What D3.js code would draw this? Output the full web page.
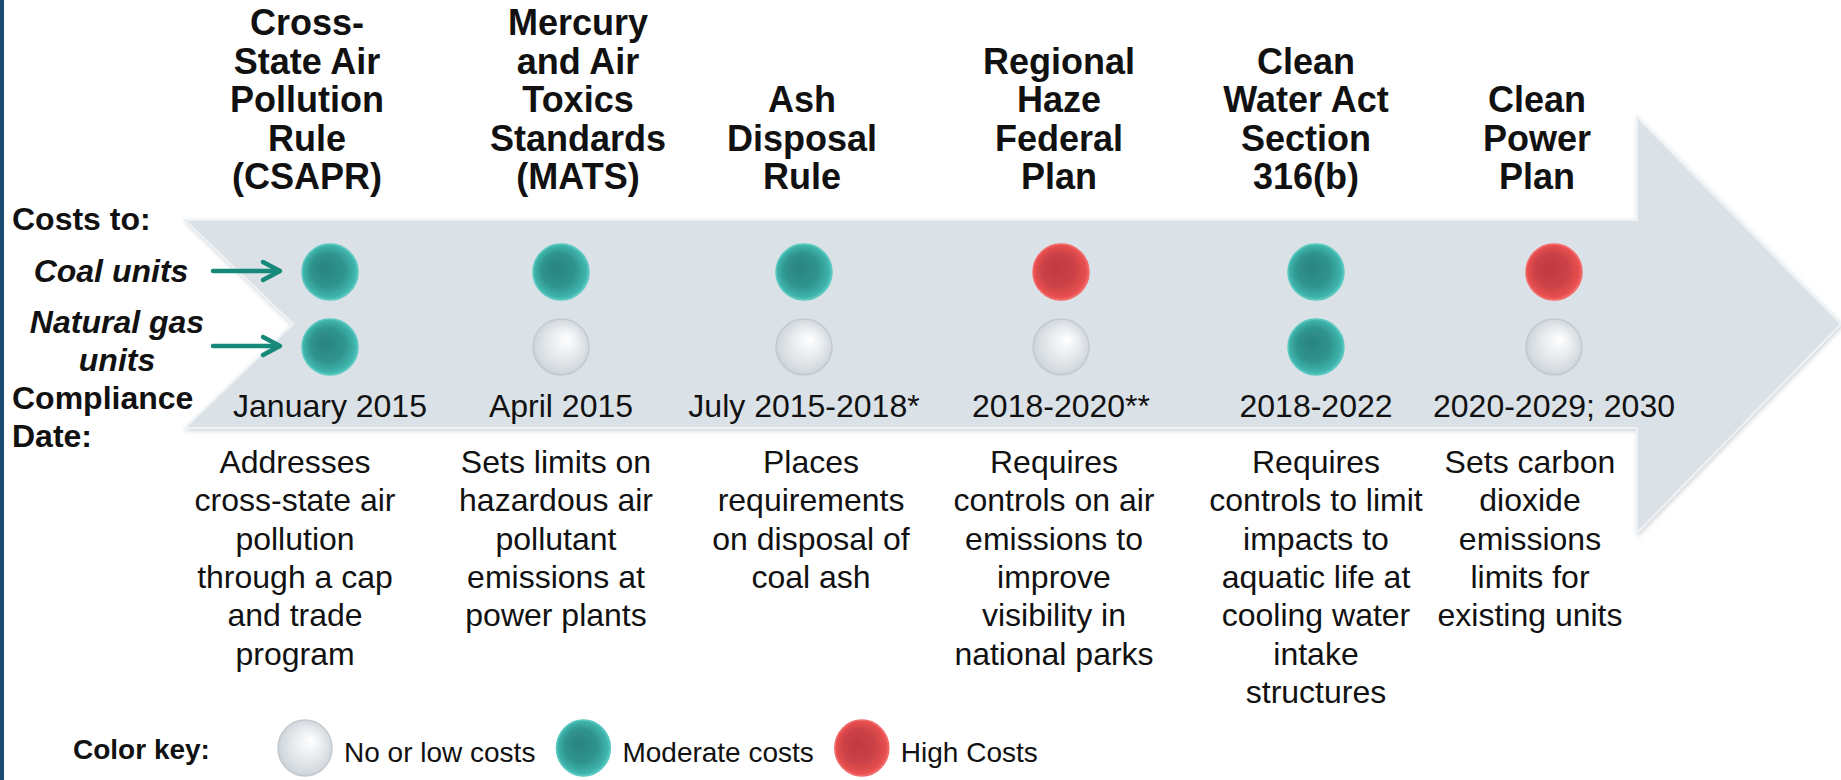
<!DOCTYPE html>
<html>
<head>
<meta charset="utf-8">
<script src="https://cdn.jsdelivr.net/npm/d3@7"></script>
<style>
  html, body { margin: 0; padding: 0; background: #fff; overflow: hidden; }
  svg text { font-family: "Liberation Sans", Arial, sans-serif; fill: #111; }
</style>
</head>
<body>
<svg id="chart" width="1841" height="780"></svg>
<script>
// ルール（カテゴリ）
const rules = ["CSAPR", "MATS", "Ash", "Haze", "316b", "CPP"];

const titleLines = [
  ["Cross-", "State Air", "Pollution", "Rule", "(CSAPR)"],
  ["Mercury", "and Air", "Toxics", "Standards", "(MATS)"],
  ["Ash", "Disposal", "Rule"],
  ["Regional", "Haze", "Federal", "Plan"],
  ["Clean", "Water Act", "Section", "316(b)"],
  ["Clean", "Power", "Plan"],
];

// コスト（石炭 / 天然ガス）
const coalCost = ["moderate", "moderate", "moderate", "high", "moderate", "high"];
const gasCost = ["moderate", "low", "low", "low", "moderate", "low"];

const complianceDates = [
  "January 2015", "April 2015", "July 2015-2018*",
  "2018-2020**", "2018-2022", "2020-2029; 2030",
];

const descriptions = [
  ["Addresses", "cross-state air", "pollution", "through a cap", "and trade", "program"],
  ["Sets limits on", "hazardous air", "pollutant", "emissions at", "power plants"],
  ["Places", "requirements", "on disposal of", "coal ash"],
  ["Requires", "controls on air", "emissions to", "improve", "visibility in", "national parks"],
  ["Requires", "controls to limit", "impacts to", "aquatic life at", "cooling water", "intake", "structures"],
  ["Sets carbon", "dioxide", "emissions", "limits for", "existing units"],
];

const costLevels = ["low", "moderate", "high"];
const costLabels = ["No or low costs", "Moderate costs", "High Costs"];
const unitRows = ["coal", "gas"];

// テキストボックス・列のずれ（レイアウト調整）
const colNudge = [2, -11, -12, 1, 12, 6];
const titleNudge = [-21, 6, -14, -1, 2, -11];
const descNudge = [-33, -16, -5, -6, 12, -18];

const svg = d3.select("#chart");
const defs = svg.append("defs");

// 立体的なボタン風グラデーション
const gradSpecs = {
  moderate: [[0, "#2a837e"], [0.55, "#2f948e"], [0.85, "#3fb5ad"], [1, "#78e0d8"]],
  high: [[0, "#c0393f"], [0.55, "#cc4247"], [0.85, "#e8504f"], [1, "#ff8a8a"]],
  low: [[0, "#ffffff"], [0.45, "#e9edf0"], [0.85, "#d3d9de"], [1, "#bfc6cc"]],
};
Object.entries(gradSpecs).forEach(([k, stops]) => {
  const g = defs.append("radialGradient").attr("id", "g-" + k)
    .attr("cx", "0.5").attr("cy", "0.5").attr("r", "0.55")
    .attr("fx", k === "low" ? "0.62" : "0.4").attr("fy", k === "low" ? "0.35" : "0.42");
  stops.forEach(([o, c]) => g.append("stop").attr("offset", o).attr("stop-color", c));
});
const shadow = defs.append("filter").attr("id", "shadow")
  .attr("x", "-5%").attr("y", "-10%").attr("width", "110%").attr("height", "125%");
shadow.append("feDropShadow").attr("dx", 1).attr("dy", 2).attr("stdDeviation", 2)
  .attr("flood-color", "#7a8590").attr("flood-opacity", 0.35);
defs.append("filter").attr("id", "soft")
  .append("feGaussianBlur").attr("stdDeviation", 0.5);

const fillFor = d3.scaleOrdinal().domain(costLevels).range(costLevels.map(k => `url(#g-${k})`));
const rimFor = d3.scaleOrdinal().domain(costLevels).range(["#c4cad0", "#5cc9c0", "#f26a6a"]);

// 左端の縦線
svg.append("rect").attr("x", 0).attr("y", 0).attr("width", 4).attr("height", 780).attr("fill", "#1d4a72");

// 矢印
const body = { x0: 185, x1: 1637, top: 220, bottom: 428, notch: 293 };
const head = { top: 117, bottom: 533, tip: 1841 };
const mid = (body.top + body.bottom) / 2;
svg.append("path")
  .attr("d", d3.line()([
    [body.x0, body.top], [body.x1, body.top], [body.x1, head.top], [head.tip, mid],
    [body.x1, head.bottom], [body.x1, body.bottom], [body.x0, body.bottom], [body.notch, mid],
  ]) + "Z")
  .attr("fill", "#dae1e7").attr("stroke", "#eef2f5").attr("stroke-width", 2)
  .attr("filter", "url(#shadow)");

// 列スケール
const x = d3.scalePoint().domain(rules).range([328, 1548]);
const y = d3.scalePoint().domain(unitRows).range([272, 347]);
const colX = r => x(r) + colNudge[rules.indexOf(r)];

// タイトル（下揃え）
const titleSize = 36, titleLH = 38.5, titleBase = 189;
const gTitles = svg.append("g");
rules.forEach((r, i) => {
  const lines = titleLines[i];
  const t = gTitles.append("text").attr("text-anchor", "middle")
    .attr("font-size", titleSize).attr("font-weight", "bold");
  lines.forEach((ln, j) => {
    t.append("tspan").attr("x", x(r) + titleNudge[i])
      .attr("y", titleBase - (lines.length - 1 - j) * titleLH).text(ln);
  });
});

// コストの丸
const cells = [];
rules.forEach((r, i) => {
  cells.push({ rule: r, row: "coal", level: coalCost[i] });
  cells.push({ rule: r, row: "gas", level: gasCost[i] });
});
svg.append("g").selectAll("circle").data(cells).join("circle")
  .attr("cx", d => colX(d.rule)).attr("cy", d => y(d.row)).attr("r", 28)
  .attr("fill", d => fillFor(d.level))
  .attr("stroke", d => rimFor(d.level)).attr("stroke-width", 1.5)
  .attr("filter", "url(#soft)");

// 左側ラベル
const gLeft = svg.append("g").attr("font-size", 32).attr("font-weight", "bold");
gLeft.append("text").attr("x", 12).attr("y", 230).text("Costs to:");
gLeft.append("text").attr("x", 111).attr("y", 282).attr("text-anchor", "middle")
  .attr("font-style", "italic").text("Coal units");
const gasLbl = gLeft.append("text").attr("text-anchor", "middle").attr("font-style", "italic");
gasLbl.append("tspan").attr("x", 117).attr("y", 333).text("Natural gas");
gasLbl.append("tspan").attr("x", 117).attr("y", 371).text("units");
const compLbl = gLeft.append("text");
compLbl.append("tspan").attr("x", 12).attr("y", 409).text("Compliance");
compLbl.append("tspan").attr("x", 12).attr("y", 447).text("Date:");

// 緑の矢印
const gArrows = svg.append("g").attr("fill", "none").attr("stroke", "#17897a")
  .attr("stroke-width", 4.5).attr("stroke-linecap", "round").attr("stroke-linejoin", "round");
unitRows.forEach(row => {
  const yy = y(row) - 1;
  gArrows.append("path").attr("d", `M213,${yy}H279`);
  gArrows.append("path").attr("d", `M263,${yy - 9}L280,${yy}L263,${yy + 9}`);
});

// 遵守日
svg.append("g").selectAll("text").data(rules).join("text")
  .attr("x", d => colX(d)).attr("y", 417).attr("text-anchor", "middle")
  .attr("font-size", 32).text((d, i) => complianceDates[i]);

// 説明文
const descLH = 38.3, descBase = 473;
rules.forEach((r, i) => {
  const t = svg.append("text").attr("text-anchor", "middle").attr("font-size", 32);
  descriptions[i].forEach((ln, j) => {
    t.append("tspan").attr("x", x(r) + descNudge[i]).attr("y", descBase + j * descLH).text(ln);
  });
});

// 凡例
const gKey = svg.append("g").attr("font-size", 28);
gKey.append("text").attr("x", 73).attr("y", 759).attr("font-weight", "bold").text("Color key:");
let cx = 305;
costLevels.forEach((lvl, i) => {
  gKey.append("ellipse").attr("cx", cx).attr("cy", 748).attr("rx", 27).attr("ry", 28)
    .attr("fill", fillFor(lvl)).attr("stroke", rimFor(lvl)).attr("stroke-width", 1.5)
    .attr("filter", "url(#soft)");
  const lbl = gKey.append("text").attr("x", cx + 39).attr("y", 762).text(costLabels[i]);
  cx = cx + 39 + lbl.node().getComputedTextLength() + 48;
});
</script>
</body>
</html>
